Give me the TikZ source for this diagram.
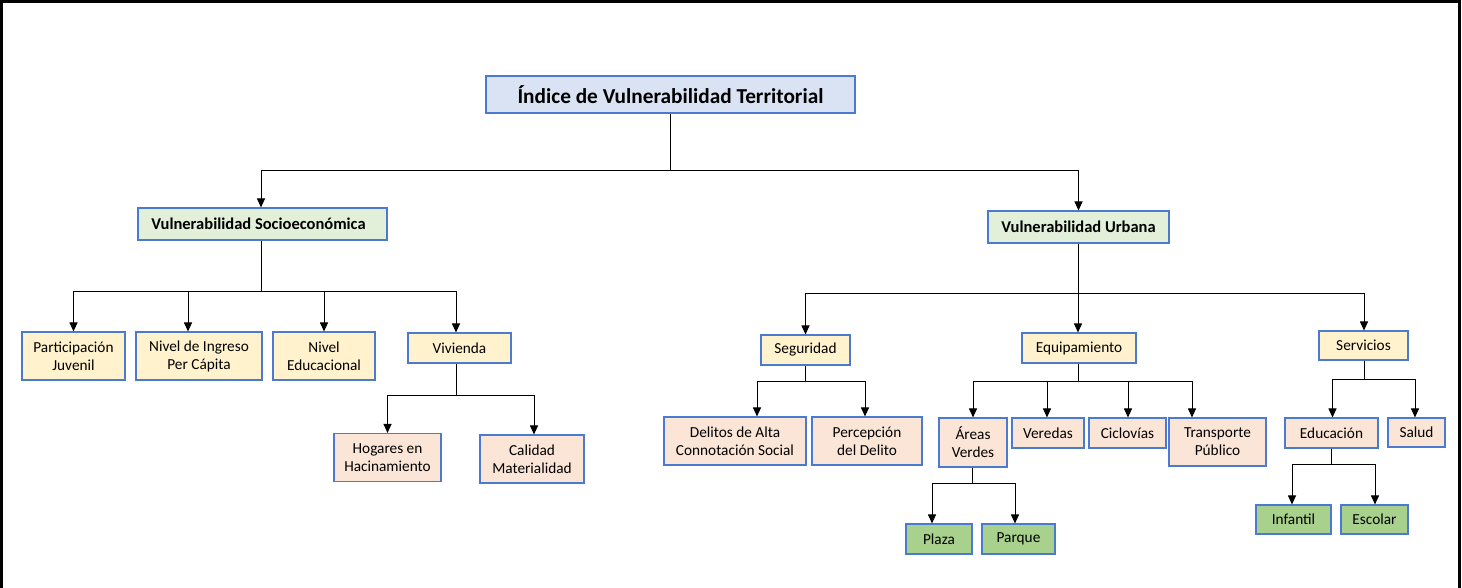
\documentclass[tikz,border=0pt]{standalone}
\usepackage{fontspec}
\setmainfont{Carlito}
\usetikzlibrary{arrows.meta}
\definecolor{bord}{HTML}{4A7BD0}
\definecolor{rootc}{HTML}{DAE3F3}
\definecolor{greenl}{HTML}{E2F0D9}
\definecolor{yel}{HTML}{FFF2CC}
\definecolor{peach}{HTML}{FBE5D6}
\definecolor{greend}{HTML}{A9D18E}
\tikzset{
  bx/.style={draw=bord, line width=1.1pt, rectangle, inner sep=0pt, align=center,
    font=\fontsize{15.3}{18}\selectfont},
  lvl0/.style={bx, fill=rootc, font=\fontsize{21.3}{24}\selectfont\bfseries},
  lvl1/.style={bx, fill=greenl, font=\fontsize{16.5}{19}\selectfont\bfseries},
  lvly/.style={bx, fill=yel},
  lvlp/.style={bx, fill=peach},
  lvlg/.style={bx, fill=greend},
  conn/.style={draw=black, line width=1pt},
  arr/.style={conn, -{Triangle[width=8pt,length=9pt]}},
}
\begin{document}
\begin{tikzpicture}[x=1pt,y=-1pt]
\useasboundingbox (0,0) rectangle (1462,588);
% frame
\draw[line width=3pt] (1.5,588) -- (1.5,1.5) -- (1459.5,1.5) -- (1459.5,588);

% nodes
\node[lvl0, minimum width=369pt, minimum height=37pt] (root) at (670.5,94.5) {Índice de Vulnerabilidad Territorial};
\node[lvl1, minimum width=249pt, minimum height=32pt] (soc) at (262.5,224) {Vulnerabilidad Socioeconómica\hspace*{8pt}};
\node[lvl1, minimum width=181pt, minimum height=32pt] (urb) at (1078.5,227) {Vulnerabilidad Urbana};

\node[lvly, minimum width=103pt, minimum height=48pt] (part) at (73.5,356) {Participación\\Juvenil};
\node[lvly, minimum width=126pt, minimum height=48pt] (ing) at (199,356) {Nivel de Ingreso\\Per Cápita};
\node[lvly, minimum width=102pt, minimum height=48pt] (edu) at (324,356) {Nivel\\Educacional};
\node[lvly, minimum width=103pt, minimum height=30pt] (viv) at (459.5,348) {Vivienda};

\node[lvlp, minimum width=107pt, minimum height=48pt] (hog) at (387.5,457.5) {Hogares en\\Hacinamiento};
\node[lvlp, minimum width=104pt, minimum height=48pt] (cal) at (532,459) {Calidad\\Materialidad};

\node[lvly, minimum width=89pt, minimum height=30pt] (seg) at (805.5,350) {Seguridad};
\node[lvly, minimum width=114pt, minimum height=30pt] (equ) at (1079,348) {Equipamiento};
\node[lvly, minimum width=89pt, minimum height=29pt] (ser) at (1363.5,345.5) {Servicios};

\node[lvlp, minimum width=142pt, minimum height=48pt] (del) at (735,441) {Delitos de Alta\\Connotación Social};
\node[lvlp, minimum width=110pt, minimum height=48pt] (per) at (867,441) {Percepción\\del Delito};
\node[lvlp, minimum width=68pt, minimum height=49pt] (are) at (973,442.5) {Áreas\\Verdes};
\node[lvlp, minimum width=72pt, minimum height=30pt] (ver) at (1048,433) {Veredas};
\node[lvlp, minimum width=77pt, minimum height=30pt] (cic) at (1127.5,433) {Ciclovías};
\node[lvlp, minimum width=97pt, minimum height=48pt] (tra) at (1217.5,442) {Transporte\\Público};
\node[lvlp, minimum width=93pt, minimum height=30pt] (edc) at (1331.5,433) {Educación};
\node[lvlp, minimum width=57pt, minimum height=29pt] (sal) at (1416.5,432.5) {Salud};

\node[lvlg, minimum width=66pt, minimum height=30pt] (pla) at (939,539) {Plaza};
\node[lvlg, minimum width=73pt, minimum height=30pt] (par) at (1018.5,539) {Parque};
\node[lvlg, minimum width=75pt, minimum height=29pt] (inf) at (1293.5,519.5) {Infantil};
\node[lvlg, minimum width=67pt, minimum height=29pt] (esc) at (1374.5,519.5) {Escolar};

% branch points
\path (root.south) ++(0,57) coordinate (b0);
\path ([xshift=-1pt]soc.south) ++(0,51) coordinate (bS);
\path ([xshift=-3.5pt]viv.south) ++(0,32) coordinate (bV);
\path (urb.south) ++(0,50) coordinate (bU);
\path (seg.south) ++(0,16) coordinate (bSeg);
\path ([xshift=-1pt]equ.south) ++(0,18) coordinate (bE);
\path ([xshift=-1pt]are.south) ++(0,16) coordinate (bA);
\path ([xshift=0.5pt]ser.south) ++(0,19) coordinate (bSer);
\path ([xshift=-0.5pt]edc.south) ++(0,16) coordinate (bEd);

% connectors
\draw[conn] (root.south) -- (b0);
\draw[arr] (b0) -| ([xshift=-1.5pt]soc.north);
\draw[arr] (b0) -| (urb.north);

\draw[conn] ([xshift=-1pt]soc.south) -- (bS);
\draw[arr] (bS) -| (part.north);
\draw[arr] (bS) -| ([xshift=-11pt]ing.north);
\draw[arr] (bS) -| (edu.north);
\draw[arr] (bS) -| ([xshift=-3.5pt]viv.north);

\draw[conn] ([xshift=-3.5pt]viv.south) -- (bV);
\draw[arr] (bV) -| (hog.north);
\draw[arr] (bV) -| ([xshift=2pt]cal.north);

\draw[conn] (urb.south) -- (bU);
\draw[arr] (bU) -| (seg.north);
\draw[arr] (bU) -| ([xshift=-1pt]equ.north);
\draw[arr] (bU) -| ([xshift=0.5pt]ser.north);

\draw[conn] (seg.south) -- (bSeg);
\draw[arr] (bSeg) -| ([xshift=22pt]del.north);
\draw[arr] (bSeg) -| ([xshift=-2pt]per.north);

\draw[conn] ([xshift=-1pt]equ.south) -- (bE);
\draw[arr] (bE) -| (are.north);
\draw[arr] (bE) -| ([xshift=-1pt]ver.north);
\draw[arr] (bE) -| ([xshift=0.5pt]cic.north);
\draw[arr] (bE) -| ([xshift=-25.5pt]tra.north);

\draw[conn] ([xshift=-1pt]are.south) -- (bA);
\draw[arr] (bA) -| ([xshift=-7pt]pla.north);
\draw[arr] (bA) -| ([xshift=-3.5pt]par.north);

\draw[conn] ([xshift=0.5pt]ser.south) -- (bSer);
\draw[arr] (bSer) -| ([xshift=1pt]edc.north);
\draw[arr] (bSer) -| ([xshift=-1.5pt]sal.north);

\draw[conn] ([xshift=-0.5pt]edc.south) -- (bEd);
\draw[arr] (bEd) -| ([xshift=-1.5pt]inf.north);
\draw[arr] (bEd) -| ([xshift=0.5pt]esc.north);
\end{tikzpicture}
\end{document}
